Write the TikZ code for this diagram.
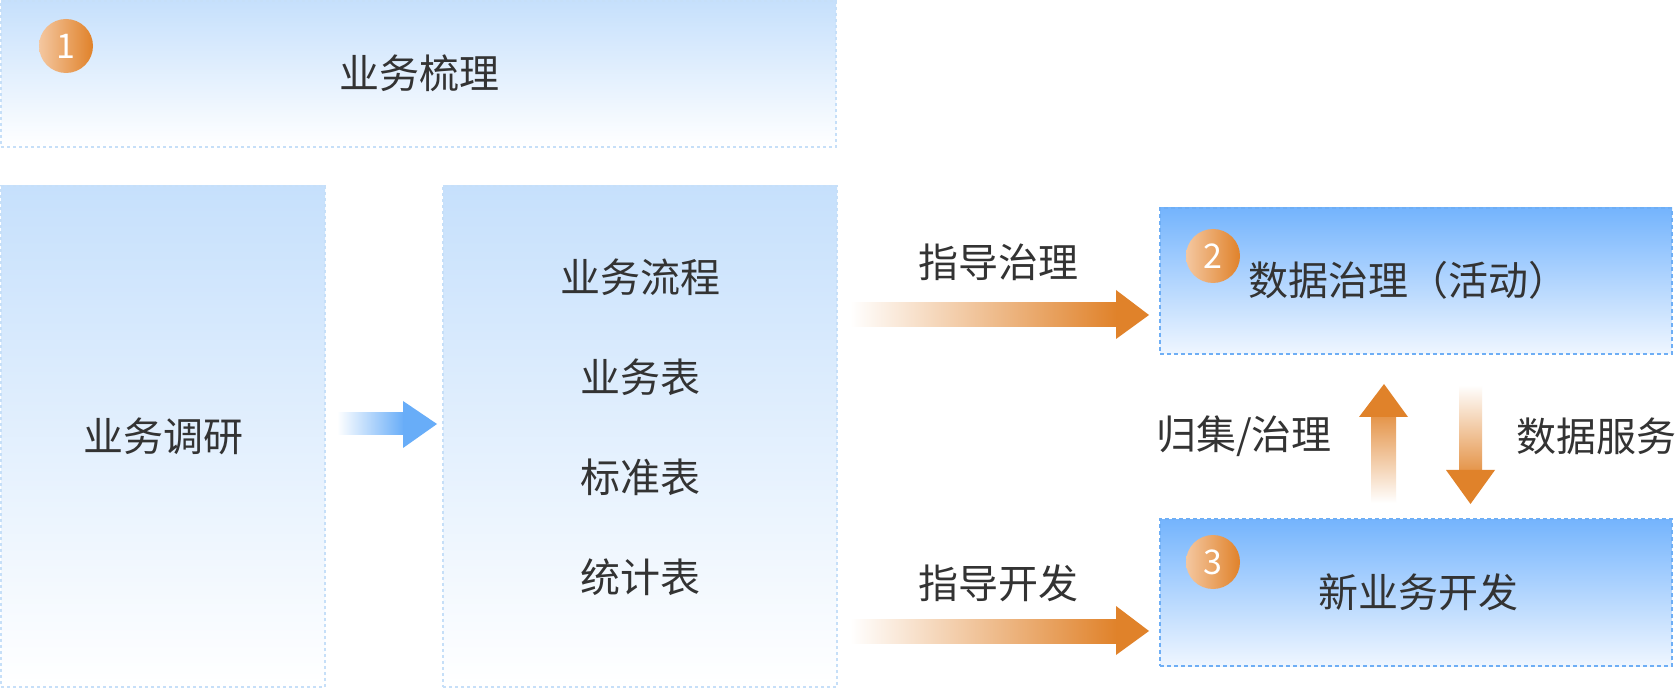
\documentclass[tikz,border=0pt]{standalone}
\usepackage{fontspec}
\setmainfont{Noto Sans CJK SC}
\definecolor{txt}{HTML}{333333}
\definecolor{lblue}{HTML}{C6E0FC}
\definecolor{dblue}{HTML}{74B4FD}
\definecolor{pblue}{HTML}{EFF6FF}
\definecolor{lborder}{HTML}{C6DFF8}
\definecolor{dborder}{HTML}{6EAEF5}
\definecolor{orng}{HTML}{E0822A}
\definecolor{lorng}{HTML}{F4C7A0}
\definecolor{arrblue}{HTML}{68ADF8}
\begin{document}
\begin{tikzpicture}[x=0.5pt,y=-0.5pt,
 lbox/.style={anchor=north west, inner sep=0, outer sep=0, draw=lborder, line width=0.75pt, dash pattern=on 1.5pt off 1.5pt, top color=lblue, bottom color=white},
 dbox/.style={anchor=north west, inner sep=0, outer sep=0, draw=dborder, line width=0.75pt, dash pattern=on 2pt off 1.5pt, top color=dblue, bottom color=pblue},
 lbl/.style={text=txt, font=\fontsize{20}{24}\selectfont, inner sep=0},
 badge/.style={circle, minimum size=27pt, inner sep=0, left color=lorng, right color=orng, text=white, font=\fontsize{17}{20}\selectfont},
 hshaft/.style={left color=white, right color=orng},
 headfill/.style={fill=orng}
]
\fill[white] (0,0) rectangle (1676,689);
\useasboundingbox (0,0) rectangle (1676,689);

% boxes
\node[lbox, minimum width=417.5pt, minimum height=73pt] (box1) at (1,1) {};
\node[lbox, minimum width=162pt, minimum height=250.5pt] (boxA) at (1,186) {};
\node[lbox, minimum width=197pt, minimum height=250.5pt] (boxB) at (443,186) {};
\node[dbox, minimum width=256pt, minimum height=73pt] (box2) at (1160,208) {};
\node[dbox, minimum width=256pt, minimum height=73.5pt] (box3) at (1160,519) {};

% badges
\node[badge] (b1) at (66,46) {1};
\node[badge] (b2) at (1213,256) {2};
\node[badge] (b3) at (1213,562) {3};

% texts
\node[lbl] (t1) at (419,73) {业务梳理};
\node[lbl] (tA) at (163,436) {业务调研};
\node[lbl] (tB1) at (640,277) {业务流程};
\node[lbl] (tB2) at (640,377) {业务表};
\node[lbl] (tB3) at (640,477) {标准表};
\node[lbl] (tB4) at (640,577) {统计表};
\node[lbl] (t2) at (1408,280) {数据治理（活动）};
\node[lbl] (t3) at (1418,592) {新业务开发};
\node[lbl] (l1) at (998,262) {指导治理};
\node[lbl] (l2) at (998,583) {指导开发};
\node[lbl] (l3) at (1244,436) {归集/治理};
\node[lbl] (l4) at (1596,436) {数据服务};

% blue arrow
\shade[left color=white, right color=arrblue] (337,413) rectangle (404,435);
\fill[arrblue] (403,401) -- (437,424) -- (403,448) -- cycle;

% orange arrow 1
\shade[hshaft] (850,303) rectangle (1117,327);
\fill[headfill] (1116,290) -- (1149,315) -- (1116,339) -- cycle;

% orange arrow 2
\shade[hshaft] (850,619) rectangle (1117,643);
\fill[headfill] (1116,606) -- (1149,631) -- (1116,655) -- cycle;

% up arrow
\shade[top color=orng!85!white, bottom color=white] (1371,416) rectangle (1396,503);
\fill[headfill] (1384,384) -- (1408,417) -- (1359,417) -- cycle;

% down arrow
\shade[top color=white, bottom color=orng!85!white] (1459,385) rectangle (1482,471);
\fill[headfill] (1446,470) -- (1495,470) -- (1470.5,504) -- cycle;
\end{tikzpicture}
\end{document}
